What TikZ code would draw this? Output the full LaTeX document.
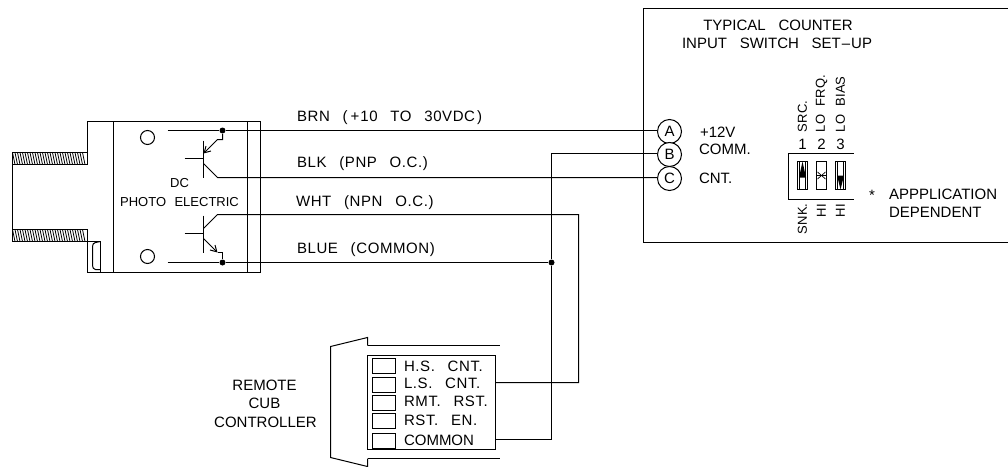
\documentclass[tikz,border=0pt]{standalone}
\usepackage{fontspec}
\setmainfont{Liberation Sans}
\usetikzlibrary{arrows.meta}
\newcommand{\gap}{\hspace{0.85em}}
\newcommand{\thin}{\hspace{0.65em}}
\begin{document}
\begin{tikzpicture}[x=1pt,y=-1pt,shift={(.5,.5)},line width=1pt,
	lbl/.style={inner sep=0pt,font=\fontsize{15}{15}\selectfont,anchor=west},
	wirelbl/.style={lbl,font=\fontsize{15}{15}\selectfont\addfontfeature{LetterSpace=4}},
	mid/.style={lbl,anchor=center,align=center},
	small/.style={mid,font=\fontsize{13}{13}\selectfont},
	uplbl/.style={lbl,font=\fontsize{13}{13}\selectfont,rotate=90},
	term/.style={draw,circle,inner sep=0pt,minimum size=24pt,fill=white,font=\fontsize{15}{15}\selectfont},
	hole/.style={draw,circle,inner sep=0pt,minimum size=14pt},
	junc/.style={fill,circle,inner sep=0pt,minimum size=6pt},
	keyslot/.style={draw,inner sep=0pt,minimum width=23pt,minimum height=15pt},
	barb/.style={-{Straight Barb[length=6pt,width=7pt]}}]
	\useasboundingbox (-.5,-.5) rectangle (1007.5,465.5);
	% sensor body
	\draw (12,164) -- (12,229);
	\draw (87,152) -- (87,121) -- (260,121) -- (260,272) -- (87,272) -- (87,241);
	\draw (113,121) -- (113,272);
	\draw (247,121) -- (247,272);
	\draw (87,241) -- (100,241) -- (100,272);
	\draw (100,241) -- (95,242) to[out=180,in=90] (92,246) -- (92,265) to[out=-90,in=180] (95,269) -- (100,269);
	\foreach \y in {152,229} {
		\draw (12,\y) rectangle (87,\y+12);
		\foreach \x in {12,14.5,...,84} \draw[line width=.8pt] (\x,\y) -- (\x+2.5,\y+12);
	}
	\node[hole] (holetop) at (147,137) {};
	\node[hole] (holebot) at (147,256) {};
	\node[small] (dc) at (179,183) {DC};
	\node[small] (photo) at (179,202) {PHOTO\thin ELECTRIC};
	% terminals
	\node[term] (a) at (669,131) {A};
	\node[term] (b) at (669,154) {B};
	\node[term] (c) at (669,178) {C};
	\node[junc] (toppnp) at (222,130) {};
	\node[junc] (botnpn) at (222,262) {};
	\node[junc] (common) at (551,262) {};
	% pnp
	\draw (203,140) -- (203,177);
	\draw (184,158) -- (203,158);
	\coordinate (starta) at (167,130);
	\coordinate (startblue) at (167,262);
	\draw (starta) -- (toppnp) -- (a.west |- 0,130);
	\draw[barb] (toppnp) -- (222,139) -- (217,139) -- (203,153);
	\draw (203,163) -- (217,177) -- (c.west |- 0,177);
	% npn
	\draw (203,215) -- (203,252);
	\draw (184,233) -- (203,233);
	\draw (203,228) -- (217,214) -- (578,214) -- (578,382) -- (495,382);
	\draw[barb] (203,238) -- (217,252);
	\draw (217,252) -- (222,252) -- (botnpn);
	\draw (startblue) -- (botnpn) -- (common);
	\draw (b.west |- 0,153) -- (551,153) -- (common) -- (551,439) -- (495,439);
	\node[wirelbl] (brn) at (296,117) {BRN\gap(\kern3pt+\kern1pt10\gap TO\gap 30VDC\kern2pt)};
	\node[wirelbl] (blk) at (296,163) {BLK\gap(PNP\gap O.C.)};
	\node[wirelbl] (wht) at (295,202) {WHT\gap(NPN\gap O.C.)};
	\node[wirelbl] (blue) at (296,249) {BLUE\gap(COMMON)};
	% counter box
	\draw (1008,8) -- (643,8) -- (643,242) -- (1008,242);
	\node[mid] (title1) at (777.5,25) {TYPICAL\gap COUNTER};
	\node[mid] (title2) at (776.5,43) {INPUT\gap SWITCH\gap SET\kern1pt--\kern1pt UP};
	\node[lbl] (plus) at (699,132) {+12V};
	\node[lbl] (comm) at (698,149) {COMM.};
	\node[lbl] (cnt) at (698,178) {CNT.};
	\node[lbl] (star) at (868,195) {*};
	\node[lbl] (app) at (888,194) {APPPLICATION};
	\node[lbl] (dep) at (888,212) {DEPENDENT};
	% switch
	\draw (853,153) -- (788,153) -- (788,199) -- (853,199);
	\foreach \x in {797,816,835} \draw[line width=.8pt] (\x,161) rectangle (\x+10,189);
	\foreach \x in {797,835} {
		\draw[line width=.6pt] (\x+2,161) -- (\x+2,189);
		\draw[line width=.6pt] (\x+8,161) -- (\x+8,189);
	}
	\fill (802,161) -- (805.5,177) -- (798.5,177) -- cycle;
	\fill (840,189) -- (843.5,175) -- (836.5,175) -- cycle;
	\draw[line width=.7pt] (817,171.5) -- (825,178.5);
	\draw[line width=.7pt] (817,178.5) -- (825,171.5);
	\draw[line width=.7pt] (816,175) -- (826,175);
	\node[mid] (n1) at (802,144) {1};
	\node[mid] (n2) at (821,144) {2};
	\node[mid] (n3) at (840,144) {3};
	\node[uplbl] (src) at (802,132) {SRC.};
	\node[uplbl] (lofrq) at (821,132) {LO\thin FRQ.};
	\node[uplbl] (lobias) at (840,132) {LO\thin BIAS};
	\node[uplbl] (snk) at (802,234) {SNK.};
	\node[uplbl] (hi1) at (821,217) {HI};
	\node[uplbl] (hi2) at (840,217) {HI};
	% controller
	\draw (367,345) -- (367,337) -- (330,346) -- (330,457) -- (367,466) -- (367,458);
	\draw (367,345) -- (499,345);
	\draw (367,458) -- (499,458);
	\draw (367,355) rectangle (495,449);
	\node[keyslot] (k1) at (383.5,365) {};
	\node[keyslot] (k2) at (383.5,384) {};
	\node[keyslot] (k3) at (383.5,402.5) {};
	\node[keyslot] (k4) at (383.5,420.5) {};
	\node[keyslot] (k5) at (383.5,440) {};
	\node[wirelbl] (hs) at (403,366) {H.S.\gap CNT.};
	\node[wirelbl] (ls) at (403,383) {L.S.\gap CNT.};
	\node[wirelbl] (rmt) at (403,401) {RMT.\gap RST.};
	\node[wirelbl] (rst) at (403,420) {RST.\gap EN.};
	\node[lbl] (com) at (403,440) {COMMON};
	\node[mid] (remote) at (264,385) {REMOTE};
	\node[mid] (cub) at (264,403) {CUB};
	\node[mid] (ctrl) at (265,422) {CONTROLLER};
\end{tikzpicture}
\end{document}
